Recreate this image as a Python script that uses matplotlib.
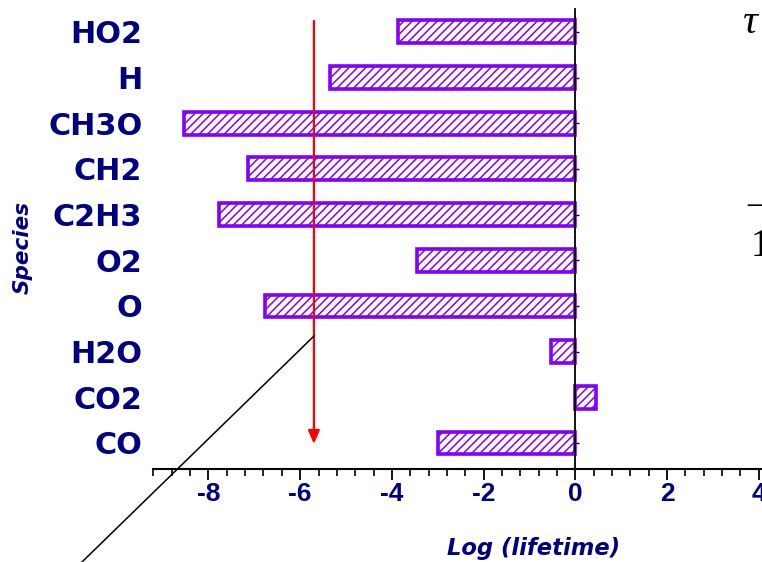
import matplotlib
matplotlib.use("Agg")
import matplotlib.pyplot as plt
from matplotlib.ticker import MultipleLocator
from matplotlib.lines import Line2D

species = ["CO", "CO2", "H2O", "O", "O2", "C2H3", "CH2", "CH3O", "H", "HO2"]
log_lifetime = [-2.99, 0.46, -0.54, -6.76, -3.45, -7.77, -7.14, -8.53, -5.35, -3.87]
xticks = [-8, -6, -4, -2, 0, 2, 4]
arrow_x = -5.7

navy = "#000080"
purple = "#8000FF"

plt.rcParams["hatch.linewidth"] = 1.1
plt.rcParams["hatch.color"] = purple

fig = plt.figure(figsize=(7.62, 5.62), dpi=100)
ax = fig.add_axes([153.4 / 762, 1 - 469 / 562, (762 - 153.4) / 762, 460 / 562])

ypos = list(range(len(species)))
ax.barh(ypos, log_lifetime, height=0.5, left=0, color="white",
        edgecolor=purple, linewidth=2.6, hatch="////", zorder=2)

ax.set_xlim(-9.2, 4.07)
ax.set_ylim(-0.57, 9.5)

# spines
ax.spines["top"].set_visible(False)
ax.spines["left"].set_visible(False)
ax.spines["right"].set_position(("data", 0))
ax.spines["right"].set_linewidth(1.3)
ax.spines["right"].set_zorder(3)
ax.spines["bottom"].set_linewidth(1.5)

ax.set_yticks(ypos)
ax.set_yticklabels(species)
ax.tick_params(axis="y", which="both", left=True, right=True, labelleft=True,
               labelright=False, length=0, pad=8)
for t in ax.yaxis.get_major_ticks():
    t.tick2line.set_markersize(3)
    t.tick2line.set_markeredgewidth(1)
for lab in ax.get_yticklabels():
    lab.set_fontsize(21.8)
    lab.set_fontweight("bold")
    lab.set_color(navy)
    lab.set_fontfamily("DejaVu Sans")

ax.set_xticks(xticks)
ax.set_xticklabels([str(v) for v in xticks])
ax.xaxis.set_minor_locator(MultipleLocator(0.4))
ax.tick_params(axis="x", which="major", direction="out", length=8, width=1.3,
               pad=1.5, labelsize=19, labelcolor=navy)
ax.tick_params(axis="x", which="minor", direction="out", length=5, width=1.2)
for lab in ax.get_xticklabels():
    lab.set_fontweight("bold")
    lab.set_fontfamily("Liberation Sans")

# red arrow
ax.annotate("", xy=(arrow_x, -0.02), xytext=(arrow_x, 9.24),
            arrowprops=dict(arrowstyle="-|>,head_length=0.8,head_width=0.35",
                            color="#FF0000", lw=1.6, shrinkA=0, shrinkB=0),
            zorder=4)

# labels
fig.text(23 / 762, 1 - 247 / 562, "Species", rotation=90, ha="center", va="center",
         fontsize=15.5, fontweight="bold", fontstyle="italic", color=navy)
fig.text(534 / 762, 1 - 548 / 562, "Log (lifetime)", ha="center", va="center",
         fontsize=16.3, fontweight="bold", fontstyle="italic", color=navy)

# diagonal black line (figure coordinates)
fig.add_artist(Line2D([314 / 762, 82 / 762], [1 - 336 / 562, 1 - 562 / 562],
                      transform=fig.transFigure, color="black", lw=1.1))

# partial text at right edge
fig.text(742 / 762, 1 - 33 / 562, "τ", fontsize=30, fontstyle="italic",
         family="Liberation Serif", ha="left", va="baseline", color="black")
fig.text(747 / 762, 1 - 205 / 562, "–", fontsize=30,
         family="Liberation Serif", ha="left", va="center", color="black")
fig.text(751 / 762, 1 - 256 / 562, "1", fontsize=28,
         family="Liberation Serif", ha="left", va="baseline", color="black")

fig.savefig("out.png", dpi=100)
